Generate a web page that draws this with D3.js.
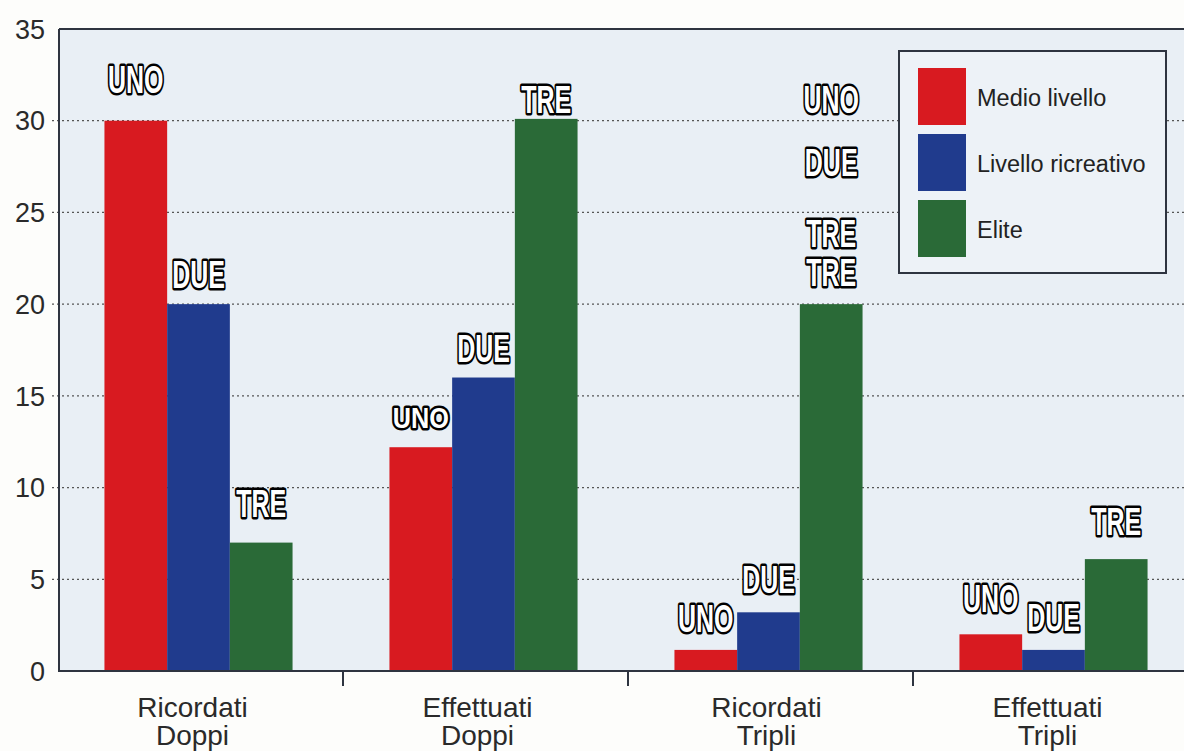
<!DOCTYPE html>
<html>
<head>
<meta charset="utf-8">
<script src="https://cdn.jsdelivr.net/npm/d3@7"></script>
<style>
  html, body { margin: 0; padding: 0; background: #fdfdfb; }
  svg { display: block; }
</style>
</head>
<body>
<svg id="chart" width="1184" height="751"></svg>
<script>
// ---------- data ----------
const categories = [["Ricordati", "Doppi"], ["Effettuati", "Doppi"], ["Ricordati", "Tripli"], ["Effettuati", "Tripli"]];
const seriesNames = ["Medio livello", "Livello ricreativo", "Elite"];
const medioLivello = [30, 12.2, 1.15, 2.0];
const livelloRicreativo = [20, 16.0, 3.2, 1.15];
const elite = [7.0, 30.1, 20, 6.1];
const yTicks = [0, 5, 10, 15, 20, 25, 30, 35];
// annotation words: [category index, series index, text, value where the word sits]
const annotations = [
  [0, 0, "UNO", 31.5], [0, 1, "DUE", 20.9], [0, 2, "TRE", 8.4],
  [1, 0, "UNO", 13.25], [1, 1, "DUE", 16.85], [1, 2, "TRE", 30.4],
  [2, 0, "UNO", 2.1], [2, 1, "DUE", 4.25], [2, 2, "TRE", 21.0],
  [2, 2, "TRE", 23.1], [2, 2, "DUE", 27.0], [2, 2, "UNO", 30.4],
  [3, 0, "UNO", 3.2], [3, 1, "DUE", 2.2], [3, 2, "TRE", 7.4]
];

// ---------- layout ----------
const colors = ["#d81a20", "#203b8d", "#2a6a37"];
const svg = d3.select("#chart");
const plotLeft = 59, plotTop = 29, plotBottom = 671, plotRight = 1200;
const font = "'Liberation Sans', Arial, Helvetica, sans-serif";

const y = d3.scaleLinear().domain([0, 35]).range([plotBottom, plotTop]);
const x0 = d3.scaleBand().domain(d3.range(categories.length))
  .range([56, 1196]).paddingInner(0.34).paddingOuter(0.17);
const x1 = d3.scaleBand().domain(d3.range(seriesNames.length))
  .range([0, x0.bandwidth()]);

const values = [medioLivello, livelloRicreativo, elite];

// plot background
svg.append("rect").attr("x", plotLeft).attr("y", plotTop)
  .attr("width", plotRight - plotLeft).attr("height", plotBottom - plotTop)
  .attr("fill", "#e9eff5");

// grid lines (dotted)
const grid = svg.append("g");
grid.selectAll("line").data(yTicks.filter(t => t > 0 && t < 35)).join("line")
  .attr("x1", 52).attr("x2", plotRight)
  .attr("y1", d => y(d)).attr("y2", d => y(d))
  .attr("stroke", "#555").attr("stroke-width", 1.3).attr("stroke-dasharray", "2,3");

// bars
const groups = svg.append("g").selectAll("g").data(categories).join("g")
  .attr("transform", (d, i) => `translate(${x0(i)},0)`);
groups.selectAll("rect").data((d, i) => values.map((v, s) => ({ s, v: v[i] }))).join("rect")
  .attr("x", d => x1(d.s)).attr("width", x1.bandwidth())
  .attr("y", d => y(d.v)).attr("height", d => y(0) - y(d.v))
  .attr("fill", d => colors[d.s]);

// axes frame
svg.append("line").attr("x1", plotLeft).attr("x2", plotLeft).attr("y1", plotTop).attr("y2", plotBottom)
  .attr("stroke", "#2e3440").attr("stroke-width", 2);
svg.append("line").attr("x1", plotLeft).attr("x2", plotRight).attr("y1", plotTop).attr("y2", plotTop)
  .attr("stroke", "#2e3440").attr("stroke-width", 2);
svg.append("line").attr("x1", plotLeft - 1).attr("x2", plotRight).attr("y1", plotBottom).attr("y2", plotBottom)
  .attr("stroke", "#2e3440").attr("stroke-width", 2);

// y tick labels
svg.append("g").selectAll("text").data(yTicks).join("text")
  .attr("x", 45).attr("y", d => y(d)).attr("dy", "0.36em")
  .attr("text-anchor", "end").attr("font-family", font).attr("font-size", 27)
  .attr("fill", "#2a2a2a").text(d => d);

// x separators between categories
const step = x0.step();
svg.append("g").selectAll("line").data(d3.range(1, categories.length)).join("line")
  .attr("x1", i => x0(i) - x0.paddingInner() * step / 2 + 2)
  .attr("x2", i => x0(i) - x0.paddingInner() * step / 2 + 2)
  .attr("y1", plotBottom).attr("y2", plotBottom + 15)
  .attr("stroke", "#2e3440").attr("stroke-width", 2);

// category labels
const catLabels = svg.append("g").selectAll("text").data(categories).join("text")
  .attr("x", (d, i) => x0(i) + x0.bandwidth() / 2 - 6 + (i === 2 ? 4 : 0))
  .attr("y", 717)
  .attr("text-anchor", "middle").attr("font-family", font).attr("font-size", 28)
  .attr("fill", "#2a2a2a");
catLabels.selectAll("tspan").data(d => d).join("tspan")
  .attr("x", function () { return d3.select(this.parentNode).attr("x"); })
  .attr("dy", (d, j) => j === 0 ? 0 : 28).text(d => d);

// legend
const legend = svg.append("g");
legend.append("rect").attr("x", 899).attr("y", 51).attr("width", 267).attr("height", 222)
  .attr("fill", "#edf2f7").attr("stroke", "#2e3440").attr("stroke-width", 2);
const li = legend.selectAll("g").data(seriesNames).join("g")
  .attr("transform", (d, i) => `translate(918,${68 + i * 66})`);
li.append("rect").attr("width", 48).attr("height", 57).attr("fill", (d, i) => colors[i]);
li.append("text").attr("x", 59).attr("y", 30).attr("dy", "0.35em")
  .attr("font-family", font).attr("font-size", 23.5).attr("fill", "#222").text(d => d);

// annotation words (outlined)
const smallWords = new Set([3]);
svg.append("g").selectAll("text").data(annotations).join("text")
  .attr("transform", (d, k) => {
    const cx = x0(d[0]) + x1(d[1]) + x1.bandwidth() / 2;
    const sx = smallWords.has(k) ? 0.87 : 0.64;
    return `translate(${cx},${y(d[3])}) scale(${sx},1)`;
  })
  .attr("text-anchor", "middle")
  .attr("font-family", font)
  .attr("font-weight", "bold")
  .attr("font-size", (d, k) => smallWords.has(k) ? 29 : 39)
  .attr("fill", "#ffffff").attr("stroke", "#000").attr("stroke-width", 5)
  .attr("stroke-linejoin", "round").attr("paint-order", "stroke")
  .text(d => d[2]);
</script>
</body>
</html>
